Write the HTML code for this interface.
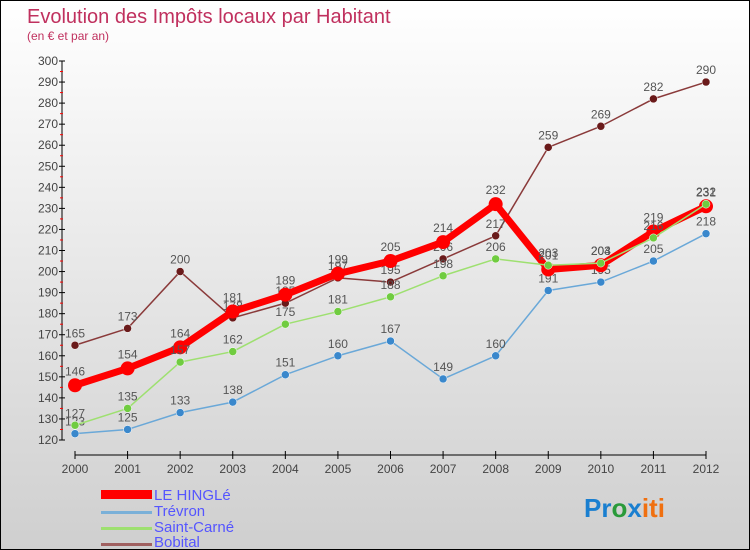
<!DOCTYPE html>
<html><head><meta charset="utf-8"><style>
body{margin:0}
#wrap{width:748px;height:548px;border:1px solid #000;background:linear-gradient(#ffffff,#cfcfcf);position:relative;overflow:hidden;font-family:"Liberation Sans",sans-serif}
svg text{font-family:"Liberation Sans",sans-serif}
</style></head><body>
<div id="wrap">
<svg id="c" width="748" height="548">
<text x="26" y="22" font-size="20" fill="#c0305e">Evolution des Impôts locaux par Habitant</text>
<text x="26" y="39" font-size="12" fill="#c0305e">(en € et par an)</text>
<g id="axes"></g><g id="series"></g>
<g>
<rect x="100" y="489" width="51" height="9" fill="#f00"/>
<text x="153" y="499" font-size="15" fill="#5555ff">LE HINGLé</text>
<rect x="100" y="510" width="51" height="3" fill="#7ab0d8"/>
<text x="153" y="515" font-size="15" fill="#5555ff">Trévron</text>
<rect x="100" y="526" width="51" height="3" fill="#9ee070"/>
<text x="153" y="531" font-size="15" fill="#5555ff">Saint-Carné</text>
<rect x="100" y="542" width="51" height="3" fill="#a06060"/>
<text x="153" y="546" font-size="15" fill="#5555ff">Bobital</text>
</g>
<text x="583" y="516" font-size="26" font-weight="bold"><tspan fill="#1a7fd0">Pr</tspan><tspan fill="#2a9a3a">o</tspan><tspan fill="#1a7fd0">x</tspan><tspan fill="#f07010">iti</tspan></text>
</svg></div>
<script>
const years=[2000,2001,2002,2003,2004,2005,2006,2007,2008,2009,2010,2011,2012];
const yTicks=[120,130,140,150,160,170,180,190,200,210,220,230,240,250,260,270,280,290,300];
const leHingle=[146,154,164,181,189,199,205,214,232,201,203,219,231];
const trevron=[123,125,133,138,151,160,167,149,160,191,195,205,218];
const saintCarne=[127,135,157,162,175,181,188,198,206,203,204,216,232];
const bobital=[165,173,200,178,185,197,195,206,217,259,269,282,290];
const NS="http://www.w3.org/2000/svg";
const xs=i=>74+i*(631/12);
const ys=v=>439-(v-120)*(379/180);
function mk(t,a,p){const e=document.createElementNS(NS,t);for(const k in a)e.setAttribute(k,a[k]);p.appendChild(e);return e;}
const ax=document.getElementById('axes');
let e=mk('line',{x1:61,y1:ys(300),x2:61,y2:ys(120),stroke:'#000'},ax);

e=mk('line',{x1:74,y1:454,x2:705,y2:454,stroke:'#000'},ax);

yTicks.forEach(v=>{mk('line',{x1:58,y1:ys(v),x2:64,y2:ys(v),stroke:'#000'},ax);
if(v<300)mk('line',{x1:59,y1:ys(v+5),x2:62,y2:ys(v+5),stroke:'#f00'},ax);
const t=mk('text',{x:57,y:ys(v)+4,'font-size':12,'text-anchor':'end',fill:'#444'},ax);t.textContent=v;
});
years.forEach((y,i)=>{mk('line',{x1:xs(i),y1:450,x2:xs(i),y2:458,stroke:'#000'},ax);
const t=mk('text',{x:xs(i),y:472,'font-size':12,'text-anchor':'middle',fill:'#444'},ax);t.textContent=y;
});
const sg=document.getElementById('series');
function series(name,data,color,w,r,dot,lblDy){
const g=mk('g',{},sg);
const l=mk('polyline',{points:data.map((v,i)=>xs(i)+','+ys(v)).join(' '),fill:'none',stroke:color,'stroke-width':w,'stroke-linejoin':'round'},g);

data.forEach((v,i)=>{const c=mk('circle',{cx:xs(i),cy:ys(v),r:r,fill:dot,stroke:w>3?'none':'#fff','stroke-width':0.5},g);

const t=mk('text',{x:xs(i),y:ys(v)+lblDy,'font-size':12,'text-anchor':'middle',fill:'#555'},g);t.textContent=v;
});}
series('trevron',trevron,'#6aa8d8',1.5,4,'#3a88cc',-8);
series('bobital',bobital,'#8a3a3a',1.5,4,'#6a1a1a',-8);
series('le-hingle',leHingle,'#f00',7,7,'#f00',-10);
series('saint-carne',saintCarne,'#9ee070',1.5,4,'#70cc40',-8);
</script></body></html>
